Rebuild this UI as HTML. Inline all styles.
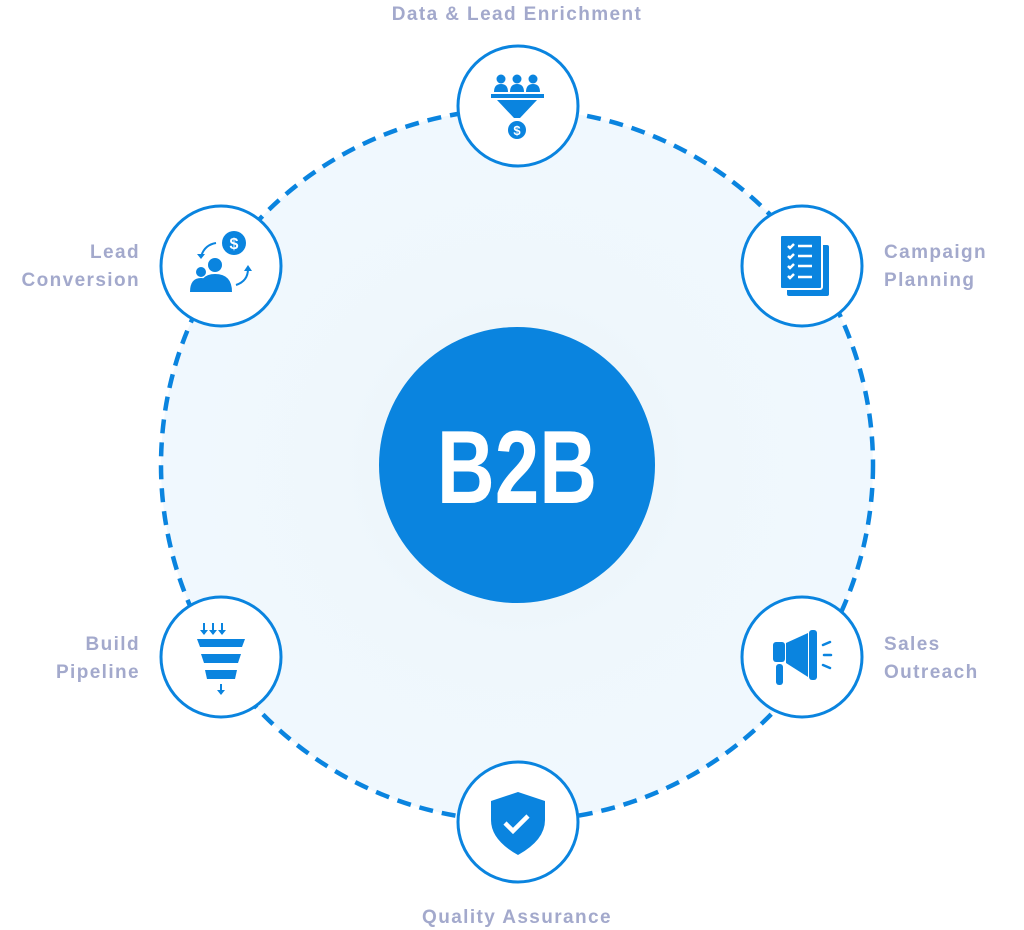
<!DOCTYPE html>
<html><head><meta charset="utf-8"><style>
html,body{margin:0;padding:0;background:#fff;width:1024px;height:930px;overflow:hidden}
svg{display:block}
.lbl{font-family:"Liberation Sans",sans-serif;font-weight:700;font-size:19px;fill:#a3a9cc;letter-spacing:1.4px}
</style></head><body>
<svg width="1024" height="930" viewBox="0 0 1024 930" xmlns="http://www.w3.org/2000/svg">
<defs>
<radialGradient id="bg" cx="0.5" cy="0.5" r="0.5">
<stop offset="0" stop-color="#eaf3f6"/><stop offset="0.5" stop-color="#eff7fc"/><stop offset="1" stop-color="#f0f8fe"/>
</radialGradient>
</defs>
<circle cx="517" cy="465" r="356" fill="url(#bg)"/>
<circle cx="517" cy="465" r="356" fill="none" stroke="#0a84df" stroke-width="4.5" stroke-dasharray="14 9"/>
<circle cx="517" cy="465" r="138" fill="#0a84df"/>
<text x="517" y="503" text-anchor="middle" font-family="'Liberation Sans',sans-serif" font-weight="700" font-size="104" fill="#fff" transform="translate(517 0) scale(0.77 1) translate(-517 0)">B2B</text>

<g fill="#fff" stroke="#0a84df" stroke-width="3">
<circle cx="518" cy="106" r="60"/>
<circle cx="221" cy="266" r="60"/>
<circle cx="802" cy="266" r="60"/>
<circle cx="221" cy="657" r="60"/>
<circle cx="802" cy="657" r="60"/>
<circle cx="518" cy="822" r="60"/>
</g>

<!-- top icon: people funnel -->
<g fill="#0a84df">
<circle cx="501" cy="79" r="4.5"/><circle cx="517" cy="79" r="4.5"/><circle cx="533" cy="79" r="4.5"/>
<path d="M494 92 q0-8 7-8 q7 0 7 8z M510 92 q0-8 7-8 q7 0 7 8z M526 92 q0-8 7-8 q7 0 7 8z"/>
<rect x="491" y="94" width="53" height="4"/>
<path d="M497 100 H537 L520 118 H514 Z"/>
<circle cx="517" cy="130" r="9"/>
<text x="517" y="135" text-anchor="middle" font-family="Liberation Sans,sans-serif" font-size="13" font-weight="700" fill="#fff">$</text>
</g>

<!-- lead conversion -->
<g fill="#0a84df">
<circle cx="234" cy="243" r="12"/>
<text x="234" y="249" text-anchor="middle" font-family="Liberation Sans,sans-serif" font-size="16" font-weight="700" fill="#fff">$</text>
<circle cx="215" cy="265" r="7"/>
<circle cx="201" cy="272" r="5"/>
<path d="M190 292 q0-14 11-14 q11 0 11 14z"/>
<path d="M199 292 q0-18 16-18 q17 0 17 18z"/>
<path d="M216 243 q-12 2 -15 14" fill="none" stroke="#0a84df" stroke-width="2"/>
<path d="M197 254 l4 5 l4 -5z"/>
<path d="M236 285 q12 -4 12 -16" fill="none" stroke="#0a84df" stroke-width="2"/>
<path d="M244 271 l4 -6 l4 6z"/>
</g>

<!-- campaign planning -->
<g fill="#0a84df">
<rect x="787" y="245" width="42" height="51" rx="2"/>
<rect x="780" y="235" width="42" height="54" rx="2" stroke="#fff" stroke-width="2"/>
<g stroke="#fff" stroke-width="2.5" fill="none">
<path d="M788 246 l2 2 l4 -4 M788 256 l2 2 l4 -4 M788 266 l2 2 l4 -4 M788 276 l2 2 l4 -4"/>
<path d="M798 246 h14 M798 256 h14 M798 266 h14 M798 277 h14"/>
</g>
</g>

<!-- sales outreach -->
<g fill="#0a84df">
<rect x="773" y="642" width="12" height="20" rx="3"/>
<path d="M786 643 L808 633 V677 L786 663Z"/>
<rect x="809" y="630" width="8" height="50" rx="3"/>
<rect x="776" y="664" width="7" height="21" rx="3"/>
<g stroke="#0a84df" stroke-width="2.5" stroke-linecap="round"><path d="M823 645 l7-3 M824 655 h7 M823 665 l7 3"/></g>
</g>

<!-- build pipeline -->
<g fill="#0a84df">
<g stroke="#0a84df" stroke-width="2" fill="none"><path d="M204 623 v11 M213 623 v11 M222 623 v11 M221 684 v10"/></g>
<path d="M200 630 l4 5 l4-5z M209 630 l4 5 l4-5z M218 630 l4 5 l4-5z M217 690 l4 5 l4-5z"/>
<path d="M197 639 H245 L242 647 H200Z"/>
<path d="M201 654 H241 L238 663 H204Z"/>
<path d="M205 670 H237 L235 679 H207Z"/>
</g>

<!-- quality -->
<g>
<path d="M518 792 L545 801 V820 Q545 840 518 855 Q491 840 491 820 V801Z" fill="#0a84df"/>
<path d="M505 823 l8 8 l15 -15" fill="none" stroke="#fff" stroke-width="4.5"/>
</g>

<text class="lbl" x="517" y="20" text-anchor="middle">Data &amp; Lead Enrichment</text>
<text class="lbl" x="140" y="258" text-anchor="end">Lead</text>
<text class="lbl" x="140" y="286" text-anchor="end">Conversion</text>
<text class="lbl" x="884" y="258">Campaign</text>
<text class="lbl" x="884" y="286">Planning</text>
<text class="lbl" x="140" y="650" text-anchor="end">Build</text>
<text class="lbl" x="140" y="678" text-anchor="end">Pipeline</text>
<text class="lbl" x="884" y="650">Sales</text>
<text class="lbl" x="884" y="678">Outreach</text>
<text class="lbl" x="517" y="923" text-anchor="middle">Quality Assurance</text>
</svg>
</body></html>
